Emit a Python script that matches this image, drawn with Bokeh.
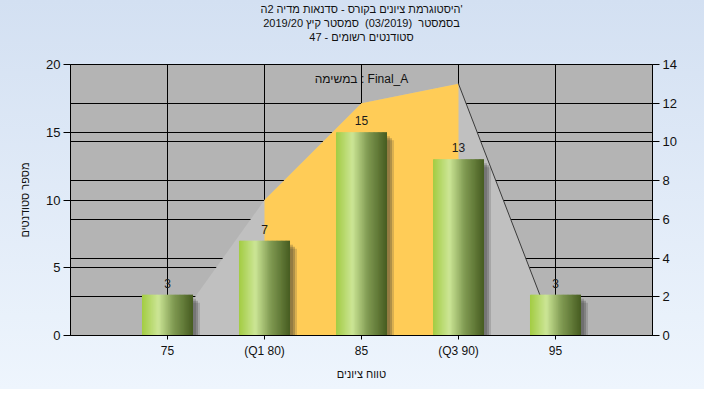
import numpy as np
from bokeh.plotting import figure
from bokeh.models import Range1d, LinearAxis, FixedTicker, Grid, Label, Title
from bokeh.embed import file_html
from bokeh.resources import INLINE
from bokeh.core.properties import value

# ---------------- data ----------------
categories = [75, 80, 85, 90, 95]
tick_labels = ["75", "(Q1 80)", "85", "(Q3 90)", "95"]
counts = [3, 7, 15, 13, 3]
curve = [0, 7, 12, 13, 0]          # distribution polygon, right axis
q1, q3 = 80, 90
left_ticks = [0, 5, 10, 15, 20]
right_ticks = [0, 2, 4, 6, 8, 10, 12, 14]

title_lines = [
    "היסטוגרמת ציונים בקורס - סדנאות מדיה 2ה'",
    "בסמסטר\u00a0\u00a0(03/2019)\u00a0\u00a0סמסטר קיץ 2019/20",
    "סטודנטים רשומים - 47",
]
task_text = "במשימה : Final_A"
x_label = "טווח ציונים"
y_label = "מספר סטודנטים"

FONT = "Liberation Sans"
W, H = 704, 389
ML, MR, MT, MB = 70, 52, 64, 54
FW, FH = W - ML - MR, H - MT - MB
X0, X1 = 70, 100
Y0, Y1 = 0, 20
px_x = (X1 - X0) / FW
px_y = (Y1 - Y0) / FH

p = figure(width=W, height=H, x_range=Range1d(X0, X1), y_range=Range1d(Y0, Y1),
           output_backend="svg", toolbar_location=None, title_location=None,
           min_border_left=ML, min_border_right=MR, min_border_top=MT, min_border_bottom=MB,
           background_fill_color="#b4b4b4", border_fill_color="#e2ecf8",
           outline_line_color="black", outline_line_width=1)
p.border_fill_alpha = 0
p.styles = {"background": "linear-gradient(180deg, #d3e0f2 0%, #eef5fd 100%)"}
p.extra_y_ranges = {"right": Range1d(0, 14)}

# spacer between frame and title block, then title lines (nearest the frame first)
p.add_layout(Title(text=" ", standoff=8, text_font=FONT, text_font_size="11px",
                   text_font_style="normal"), "above")
for line in reversed(title_lines):
    p.add_layout(Title(text=line, align="center", offset=-9, standoff=0,
                       text_font=FONT, text_font_size="11px", text_font_style="normal",
                       text_color="#111111"), "above")

# grids
p.xgrid.ticker = FixedTicker(ticks=categories)
p.ygrid.ticker = FixedTicker(ticks=left_ticks)
for g in (p.xgrid, p.ygrid):
    g.grid_line_color = "black"
    g.grid_line_width = 1
    g.grid_line_alpha = 1
p.add_layout(Grid(dimension=1, ticker=FixedTicker(ticks=right_ticks), y_range_name="right",
                  grid_line_color="black", grid_line_width=1))

# axes
xa = p.xaxis[0]
xa.ticker = FixedTicker(ticks=categories)
xa.major_label_overrides = {c: t for c, t in zip(categories, tick_labels)}
xa.axis_label = x_label
ya = p.yaxis[0]
ya.ticker = FixedTicker(ticks=left_ticks)
ya.axis_label = y_label
ra = LinearAxis(y_range_name="right", ticker=FixedTicker(ticks=right_ticks))
p.add_layout(ra, "right")
for ax in (xa, ya, ra):
    ax.axis_line_color = "black"
    ax.major_tick_line_color = "black"
    ax.minor_tick_line_color = None
    ax.major_tick_in = 0
    ax.major_label_text_font = FONT
    ax.major_label_text_font_size = "12px"
    ax.major_label_text_color = "#111111"
    ax.axis_label_text_font = FONT
    ax.axis_label_text_font_size = "11px"
    ax.axis_label_text_font_style = "normal"
    ax.axis_label_text_color = "#111111"
xa.major_tick_out = 4
xa.major_label_standoff = 4
xa.axis_label_standoff = 7
ya.major_tick_out = 7
ya.major_label_standoff = 3
ya.major_label_text_font_size = "13px"
ya.axis_label_standoff = 12
ra.major_tick_out = 7
ra.major_label_standoff = 3
ra.major_label_text_font_size = "13px"

# distribution polygon
p.patch(categories, curve, y_range_name="right", fill_color="#c0c0c0", line_color=None)
ox = [q1] + [c for c in categories if q1 <= c <= q3] + [q3]
oy = [0] + [v for c, v in zip(categories, curve) if q1 <= c <= q3] + [0]
p.patch(ox, oy, y_range_name="right", fill_color="#ffcc57", line_color=None)
i3 = categories.index(q3)
p.line(categories[i3:], curve[i3:], y_range_name="right", line_color="#3a3a3a", line_width=1)

# bars: shadow + gradient cylinder
bw = 0.526 * (categories[1] - categories[0])
for off, a in [(3, 0.22), (5, 0.25), (7, 0.18)]:
    p.quad(left=[c - bw / 2 + off * px_x for c in categories],
           right=[c + bw / 2 + off * px_x for c in categories],
           top=[v - (off + 1) * px_y for v in counts],
           bottom=[0 for _ in counts],
           fill_color="#303030", fill_alpha=a, line_color=None)

stops = [(0.0, (162, 204, 66)), (0.32, (204, 230, 150)), (0.62, (128, 154, 82)), (1.0, (70, 92, 32))]

def grad(t):
    for (t0, c0), (t1, c1) in zip(stops[:-1], stops[1:]):
        if t0 <= t <= t1:
            f = (t - t0) / (t1 - t0)
            return "#%02x%02x%02x" % tuple(int(round(a + (b - a) * f)) for a, b in zip(c0, c1))
    return "#%02x%02x%02x" % stops[-1][1]

N = 40
L, R, T, B, C = [], [], [], [], []
for c, v in zip(categories, counts):
    for i in range(N):
        L.append(c - bw / 2 + bw * i / N)
        R.append(c - bw / 2 + bw * (i + 1) / N + (0.04 if i < N - 1 else 0))
        T.append(v)
        B.append(0)
        C.append(grad((i + 0.5) / N))
p.quad(left=L, right=R, top=T, bottom=B, fill_color=C, line_color=None)

# value labels
p.text(x=categories, y=counts, text=[str(v) for v in counts], text_align="center",
       text_baseline="bottom", y_offset=-7, text_font=value(FONT),
       text_font_size="12px", text_color="#1a1a1a")

# task label inside the plot
p.add_layout(Label(x=85, y=Y1 - 14 * px_y, text=task_text, text_align="center",
                   text_baseline="middle", text_font=FONT, text_font_size="12px",
                   text_color="#111111"))

open("out.html", "w").write(file_html(p, INLINE))
